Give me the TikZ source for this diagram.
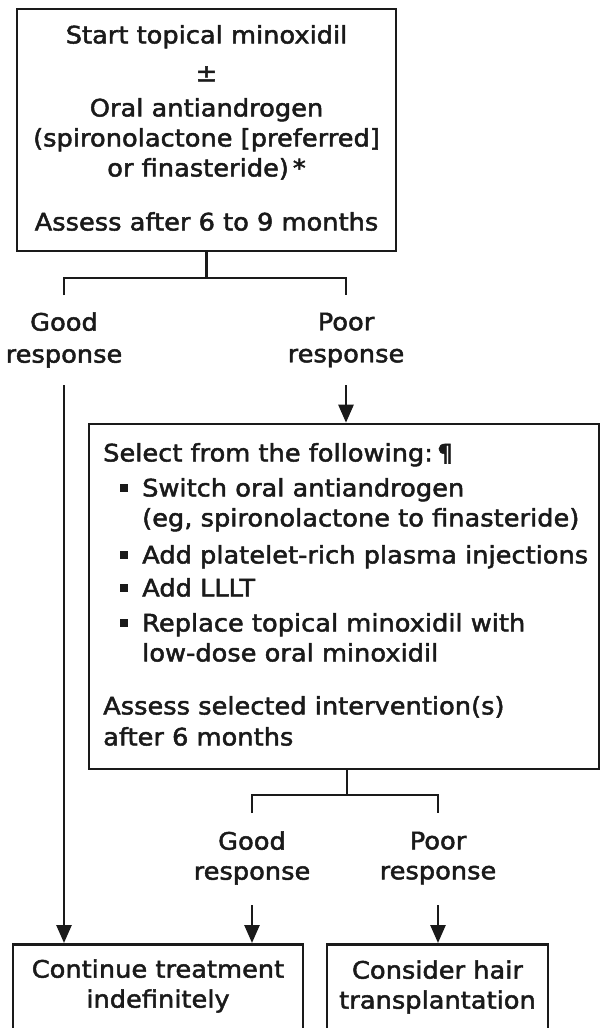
\documentclass[tikz,border=0pt]{standalone}
\usepackage{fontspec}
\setmainfont{DejaVu Sans}[FakeStretch=1.07,FakeBold=2]
\usetikzlibrary{arrows.meta}
\definecolor{ink}{HTML}{1A1A1A}
\tikzset{
  boxnode/.style={draw=ink, line width=2.6pt, inner sep=0pt, text=ink},
  txt/.style={text=ink, inner sep=0pt, font=\fontsize{24}{30}\selectfont},
  conn/.style={draw=ink, line width=2.6pt},
  arr/.style={draw=ink, line width=2.6pt, -{Triangle[width=15pt,length=18pt]}},
}
\newcommand{\bul}{\makebox[22pt][l]{\raisebox{4pt}{\rule{8pt}{8pt}}}}
\begin{document}
\begin{tikzpicture}[x=1pt,y=-1pt]
\useasboundingbox (0,0) rectangle (602,1028);
\clip (0,0) rectangle (602,1028);
% top box
\node[boxnode, minimum width=379pt, minimum height=242pt] (top) at (206.5,130) {};
\node[txt, align=center] (toptxt) at (206.5,128) {Start topical minoxidil\\[8pt]±\\[5pt]Oral antiandrogen\\(spironolactone [preferred]\\or finasteride)\,*\\[24pt]Assess after 6 to 9 months};
% first split
\coordinate (s1) at (206.5,278);
\coordinate (s1l) at (64,278);
\coordinate (s1r) at (346,278);
\coordinate (s1le) at (64,295);
\coordinate (s1re) at (346,295);
\draw[conn] (top.south) -- (s1);
\draw[conn] (s1le) -- (s1l) -- (s1r) -- (s1re);
\node[txt, align=center] (good1) at (64,340) {Good\\[2pt]response};
\node[txt, align=center] (poor1) at (346,340) {Poor\\[2pt]response};
% middle box
\node[boxnode, minimum width=510pt, minimum height=345pt] (mid) at (344,596.5) {};
\node[txt, align=left, anchor=north west] (midtxt) at (103,443) {Select from the following:\,¶\\[5pt]
\hspace*{17pt}\bul Switch oral antiandrogen\\
\hspace*{17pt}\hspace*{22pt}(eg, spironolactone to finasteride)\\[7pt]
\hspace*{17pt}\bul Add platelet-rich plasma injections\\[3pt]
\hspace*{17pt}\bul Add LLLT\\[5pt]
\hspace*{17pt}\bul Replace topical minoxidil with\\
\hspace*{17pt}\hspace*{22pt}low-dose oral minoxidil\\[23pt]
Assess selected intervention(s)\\[1pt]
after 6 months};
\coordinate (c1) at (64,385);
\coordinate (c2) at (346,385);
\draw[arr] (c2) -- (mid.north -| c2);
% second split
\coordinate (s2) at (347,795);
\coordinate (s2l) at (252,795);
\coordinate (s2r) at (438,795);
\coordinate (s2le) at (252,813);
\coordinate (s2re) at (438,813);
\draw[conn] (mid.south -| s2) -- (s2);
\draw[conn] (s2le) -- (s2l) -- (s2r) -- (s2re);
\node[txt, align=center] (good2) at (252,858) {Good\\response};
\node[txt, align=center] (poor2) at (438,858) {Poor\\response};
% bottom boxes
\node[boxnode, minimum width=290pt, minimum height=140pt, anchor=north] (cont) at (158,943) {};
\node[txt, align=center] (conttxt) at (158,986) {Continue treatment\\indefinitely};
\node[boxnode, minimum width=221pt, minimum height=140pt, anchor=north] (hair) at (437.5,943) {};
\node[txt, align=center] (hairtxt) at (437.5,987) {Consider hair\\transplantation};
\coordinate (c3) at (252,905);
\coordinate (c4) at (438,905);
\draw[arr] (c1) -- (cont.north -| c1);
\draw[arr] (c3) -- (cont.north -| c3);
\draw[arr] (c4) -- (hair.north -| c4);
\end{tikzpicture}
\end{document}
